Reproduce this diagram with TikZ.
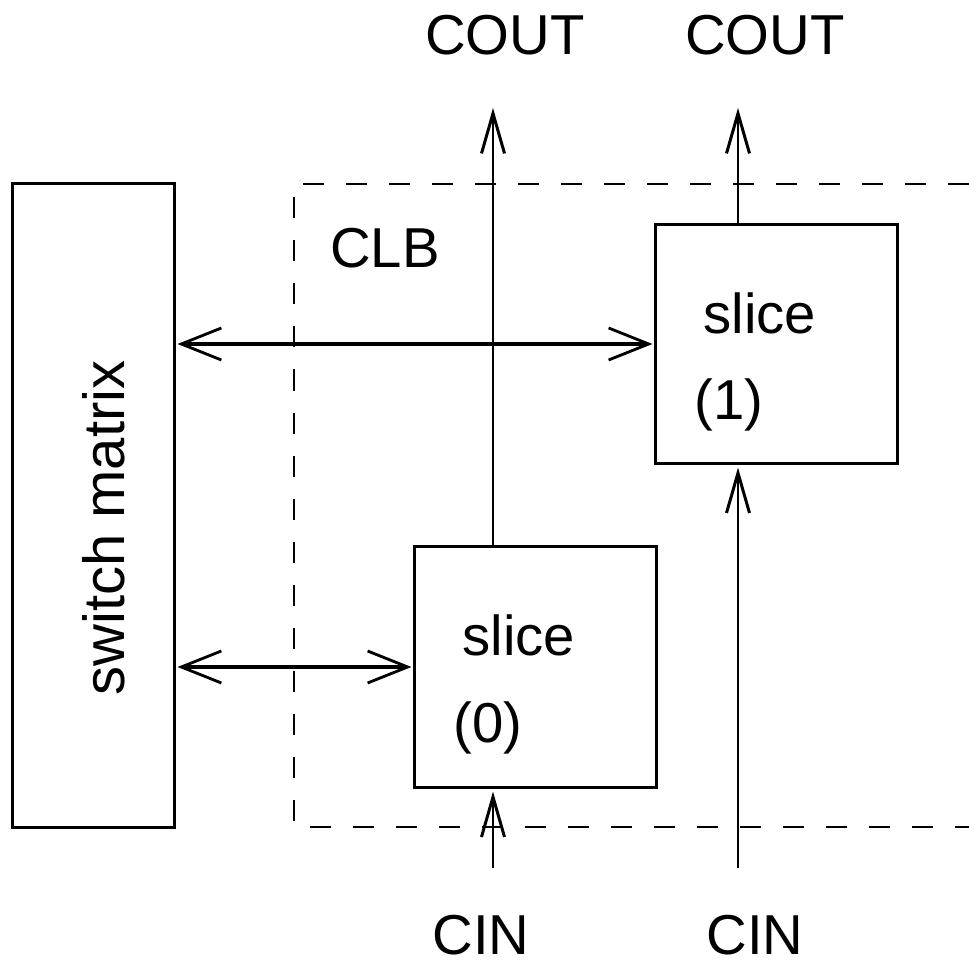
\documentclass[tikz,border=0pt]{standalone}
\usepackage{fontspec}
\setmainfont{Liberation Sans}
\usepackage{tikz}
\usetikzlibrary{calc,arrows.meta,positioning}
\tikzset{
    block/.style={rectangle, draw, line width=0.85pt, inner sep=0pt},
    lbl/.style={font=\fontsize{16}{19}\selectfont, inner sep=0pt},
    clb/.style={draw, line width=0.8pt, dash pattern=on 2.1mm off 2.2mm},
    bus/.style={draw, line width=1.4pt, shorten <=0.2mm, shorten >=0.2mm,
        {Straight Barb[length=4mm,width=3.2mm,line width=0.8pt]}-{Straight Barb[length=4mm,width=3.2mm,line width=0.8pt]}},
    carry/.style={draw, line width=0.85pt, -{Straight Barb[length=4mm,width=2.3mm,line width=0.85pt]}}
}
\begin{document}
\begin{tikzpicture}[x=0.01cm, y=-0.01cm]
    \useasboundingbox (0,0) rectangle (969,961);

    % Nodes
    \node[block, minimum width=1.61cm, minimum height=6.43cm] (sm) at (93.5,505.5) {};
    \node[lbl, rotate=90, font=\fontsize{16.5}{19}\selectfont] (smtext) at (104,528) {switch matrix};
    \node[block, minimum width=2.41cm, minimum height=2.38cm] (s1) at (776.5,344) {};
    \node[block, minimum width=2.41cm, minimum height=2.40cm] (s0) at (535.5,667) {};
    \node[lbl] (s1name) at (760,313) {slice};
    \node[lbl] (s1num) at (729,405) {(1)};
    \node[lbl] (s0name) at (519,635) {slice};
    \node[lbl] (s0num) at (488,728) {(0)};
    \node[lbl] (clbtext) at (385,248) {CLB};
    \node[lbl] (cout0) at (505,35) {COUT};
    \node[lbl] (cout1) at (765,35) {COUT};
    \node[lbl] (cin0) at (481,935) {CIN};
    \node[lbl] (cin1) at (755,935) {CIN};
    \coordinate (cout0tip) at (493,108);
    \coordinate (cout1tip) at (738,108);
    \coordinate (cin0start) at (493,868);
    \coordinate (cin1start) at (738,868);

    % CLB outline
    \draw[clb] (969,184) -- (294,184) -- (294,827) -- (969,827);

    % edges
    \draw[bus] (sm.east |- s1.west) -- (s1.west);
    \draw[bus] (sm.east |- s0.west) -- (s0.west);
    \draw[carry] (s0.north -| cout0tip) -- (cout0tip);
    \draw[carry] (s1.north -| cout1tip) -- (cout1tip);
    \draw[carry, shorten >=0.3mm] (cin0start) -- (s0.south -| cin0start);
    \draw[carry, shorten >=0.3mm] (cin1start) -- (s1.south -| cin1start);
\end{tikzpicture}
\end{document}
